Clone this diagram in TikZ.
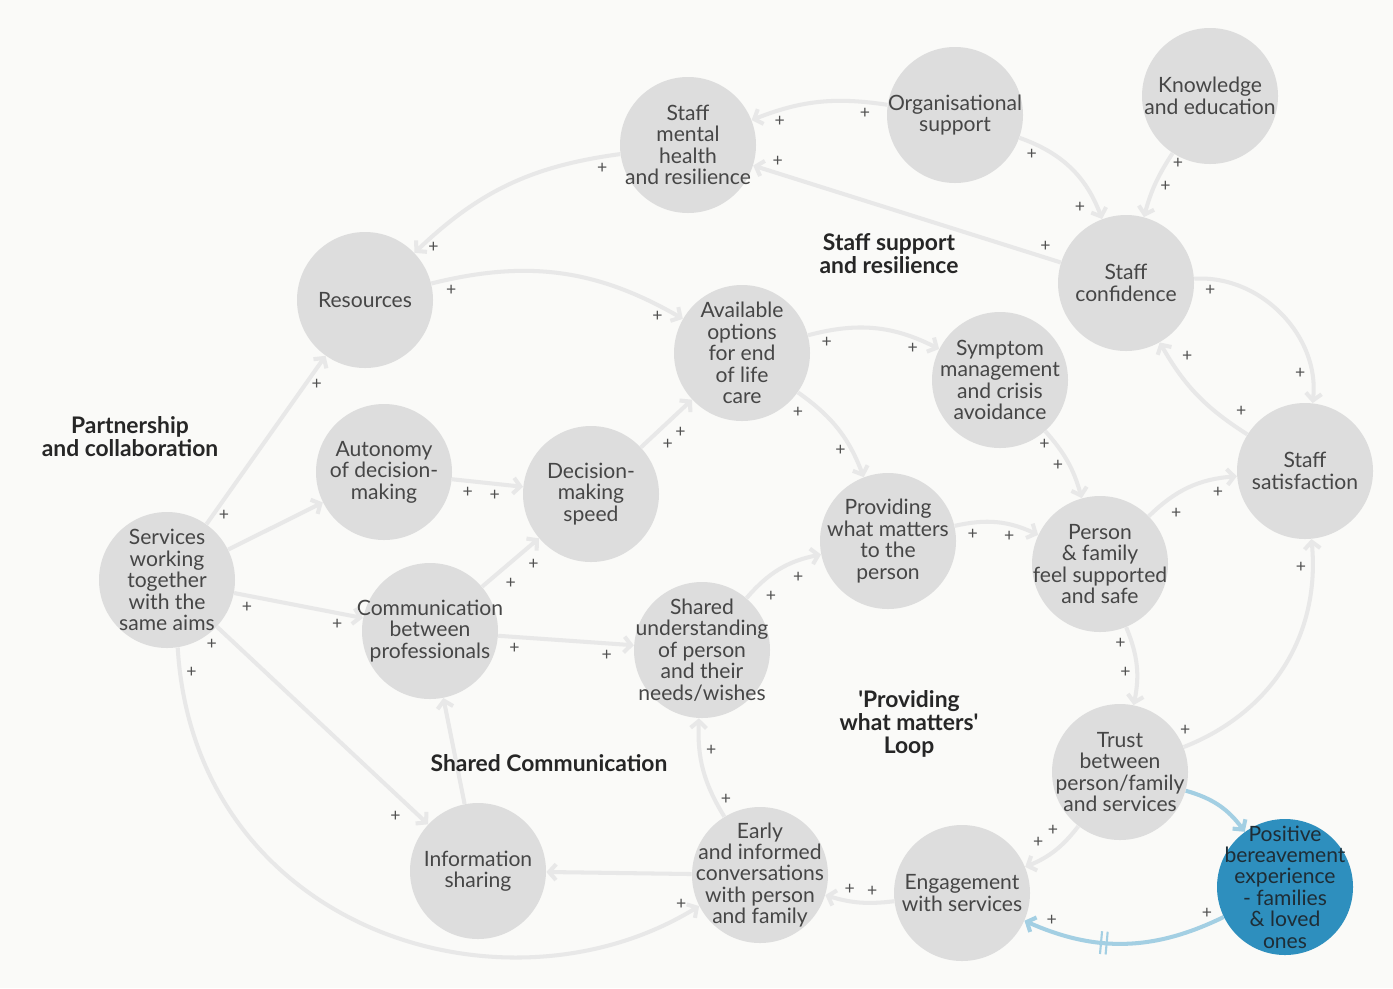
\documentclass[tikz,border=0pt]{standalone}
\usepackage{fontspec}
\setmainfont{Lato}
\usetikzlibrary{arrows.meta,decorations.markings}
\definecolor{bgcol}{HTML}{FAFAF8}
\definecolor{nodecol}{HTML}{DDDDDD}
\definecolor{linkcol}{HTML}{E8E8E8}
\definecolor{txtcol}{HTML}{464646}
\definecolor{pluscol}{HTML}{505050}
\definecolor{bluecol}{HTML}{2E8FBE}
\definecolor{bluetxt}{HTML}{1E2D36}
\definecolor{bluelinkcol}{HTML}{A3CFE3}
\begin{document}
\begin{tikzpicture}[
    factor/.style={circle, fill=nodecol, minimum size=2.72cm, inner sep=-20pt,
      align=center, text=txtcol, font=\fontsize{12}{12.2}\selectfont},
    outcome/.style={factor, fill=bluecol, text=bluetxt},
    loopname/.style={align=center, text=black!85, font=\bfseries\fontsize{13}{13}\selectfont},
    link/.style={draw=linkcol, line width=2.3pt, -{Straight Barb[length=4pt,width=9pt]}},
    bluearrow/.style={link, draw=bluelinkcol},
    plussign/.style={font=\fontsize{10}{10}\selectfont, text=pluscol, inner sep=2.5pt},
    delay/.style={postaction={decorate}, decoration={markings, mark=at position #1 with
      {\draw[bluelinkcol, line width=1.2pt, -] (-1.6pt,-6.5pt) -- (-1.6pt,6.5pt) (1.6pt,-6.5pt) -- (1.6pt,6.5pt);}}}
  ]
  \path[use as bounding box, fill=bgcol] (0,0) rectangle (27.86,-19.76);

  % Define node positions
  \node[factor] (SMH) at (13.76,-2.90) {Staff\\mental\\health\\and resilience};
  \node[factor] (Org) at (19.10,-2.30) {Organisational\\support};
  \node[factor] (Know) at (24.20,-1.92) {Knowledge\\and education};
  \node[factor] (Res) at (7.30,-6.00) {Resources};
  \node[factor] (Conf) at (22.52,-5.66) {Staff\\confidence};
  \node[factor] (Avail) at (14.84,-7.06) {Available\\options\\for end\\of life\\care};
  \node[factor] (Symp) at (20.00,-7.60) {Symptom\\management\\and crisis\\avoidance};
  \node[factor] (Auto) at (7.68,-9.44) {Autonomy\\of decision-\\making};
  \node[factor] (Dec) at (11.82,-9.88) {Decision-\\making\\speed};
  \node[factor] (Sat) at (26.10,-9.42) {Staff\\satisfaction};
  \node[factor] (Prov) at (17.76,-10.82) {Providing\\what matters\\to the\\person};
  \node[factor] (Pers) at (22.00,-11.28) {Person\\\& family\\feel supported\\and safe};
  \node[factor] (Serv) at (3.34,-11.60) {Services\\working\\together\\with the\\same aims};
  \node[factor] (Comm) at (8.60,-12.62) {Communication\\between\\professionals};
  \node[factor] (Shared) at (14.04,-13.00) {Shared\\understanding\\of person\\and their\\needs/wishes};
  \node[factor] (Trust) at (22.40,-15.44) {Trust\\between\\person/family\\and services};
  \node[outcome] (Pos) at (25.70,-17.74) {Positive\\bereavement\\experience\\- families\\\& loved\\ones};
  \node[factor] (Info) at (9.56,-17.42) {Information\\sharing};
  \node[factor] (Early) at (15.20,-17.50) {Early\\and informed\\conversations\\with person\\and family};
  \node[factor] (Eng) at (19.24,-17.86) {Engagement\\with services};

  % Draw arrows
  \draw[link] (Org) to[bend right=15] node[plussign,pos=.15,below]{+} node[plussign,pos=.8,below]{+} (SMH);
  \draw[link] (Conf) -- (SMH) node[plussign,pos=.05,above]{+} node[plussign,pos=.92,above]{+};
  \draw[link] (SMH) to[bend right=18] node[plussign,pos=.07,below]{+} node[plussign,pos=.9,below]{+} (Res);
  \draw[link] (Org) to[bend left=25] node[plussign,pos=.1,below]{+} node[plussign,pos=.8,below left]{+} (Conf);
  \draw[link] (Know) to[bend right=9] node[plussign,pos=.15,right]{+} node[plussign,pos=.55,right]{+} (Conf);
  \draw[link] (Res) to[bend left=22] node[plussign,pos=.07,below]{+} node[plussign,pos=.9,below]{+} (Avail);
  \draw[link] (Avail) to[bend left=21] node[plussign,pos=.13,below]{+} node[plussign,pos=.8,below]{+} (Symp);
  \draw[link] (Avail) to[bend left=17] node[plussign,pos=.12,below left]{+} node[plussign,pos=.75,left]{+} (Prov);
  \draw[link] (Symp) to[bend left=13] node[plussign,pos=.2,left]{+} node[plussign,pos=.55,left]{+} (Pers);
  \draw[link] (Conf) to[bend left=50] node[plussign,pos=.08,below]{+} node[plussign,pos=.85,left]{+} (Sat);
  \draw[link] (Sat) to[bend left=14] node[plussign,pos=.15,above right]{+} node[plussign,pos=.78,above right]{+} (Conf);
  \draw[link] (Serv) -- (Res) node[plussign,pos=.05,right]{+} node[plussign,pos=.83,right]{+};
  \draw[link] (Serv) -- (Auto);
  \draw[link] (Auto) -- (Dec) node[plussign,pos=.22,below]{+} node[plussign,pos=.6,below]{+};
  \draw[link] (Dec) -- (Avail) node[plussign,pos=.3,below right]{+} node[plussign,pos=.55,below right]{+};
  \draw[link] (Serv) -- (Comm) node[plussign,pos=.1,below]{+} node[plussign,pos=.8,below]{+};
  \draw[link] (Comm) -- (Dec) node[plussign,pos=.3,below right]{+} node[plussign,pos=.7,below right]{+};
  \draw[link] (Comm) -- (Shared) node[plussign,pos=.12,below]{+} node[plussign,pos=.8,below]{+};
  \draw[link] (Shared) to[bend left=19] node[plussign,pos=.2,below right]{+} node[plussign,pos=.6,below right]{+} (Prov);
  \draw[link] (Prov) to[bend left=19] node[plussign,pos=.2,below]{+} node[plussign,pos=.65,below]{+} (Pers);
  \draw[link] (Pers) to[bend left=20] node[plussign,pos=.2,below right]{+} node[plussign,pos=.7,below right]{+} (Sat);
  \draw[link] (Pers) to[bend left=17] node[plussign,pos=.2,left]{+} node[plussign,pos=.6,left]{+} (Trust);
  \draw[link] (Trust) to[bend right=37] node[plussign,pos=.05,above left]{+} node[plussign,pos=.9,left]{+} (Sat);
  \draw[bluearrow] (Trust) to[bend left=19] (Pos);
  \draw[link] (Trust) to[bend left=15] node[plussign,pos=.3,above left]{+} node[plussign,pos=.6,above left]{+} (Eng);
  \draw[bluearrow, delay=.6] (Pos) to[bend left=25] node[plussign,pos=.08,above]{+} node[plussign,pos=.87,above]{+} (Eng);
  \draw[link] (Eng) to[bend left=12] node[plussign,pos=.3,above]{+} node[plussign,pos=.65,above]{+} (Early);
  \draw[link] (Early) -- (Info);
  \draw[link] (Early) to[bend left=17] node[plussign,pos=.18,right]{+} node[plussign,pos=.7,right]{+} (Shared);
  \draw[link] (Info) -- (Comm);
  \draw[link] (Serv) -- (Info) node[plussign,pos=.03,below left]{+} node[plussign,pos=.9,below left]{+};
  \draw[link] (Serv.-81) .. controls +(0.34,-5.64) and +(-3.9,-2.4) .. (Early.207)
    node[plussign,pos=.03,right]{+} node[plussign,pos=.97,above]{+};

  % Loop names
  \node[loopname] (partner) at (2.60,-8.74) {Partnership\\and collaboration};
  \node[loopname] (staffsup) at (17.78,-5.08) {Staff support\\and resilience};
  \node[loopname] (sharedcom) at (10.98,-15.26) {Shared Communication};
  \node[loopname] (provloop) at (18.18,-14.48) {\textquotesingle Providing\\what matters\textquotesingle\\Loop};
\end{tikzpicture}
\end{document}
